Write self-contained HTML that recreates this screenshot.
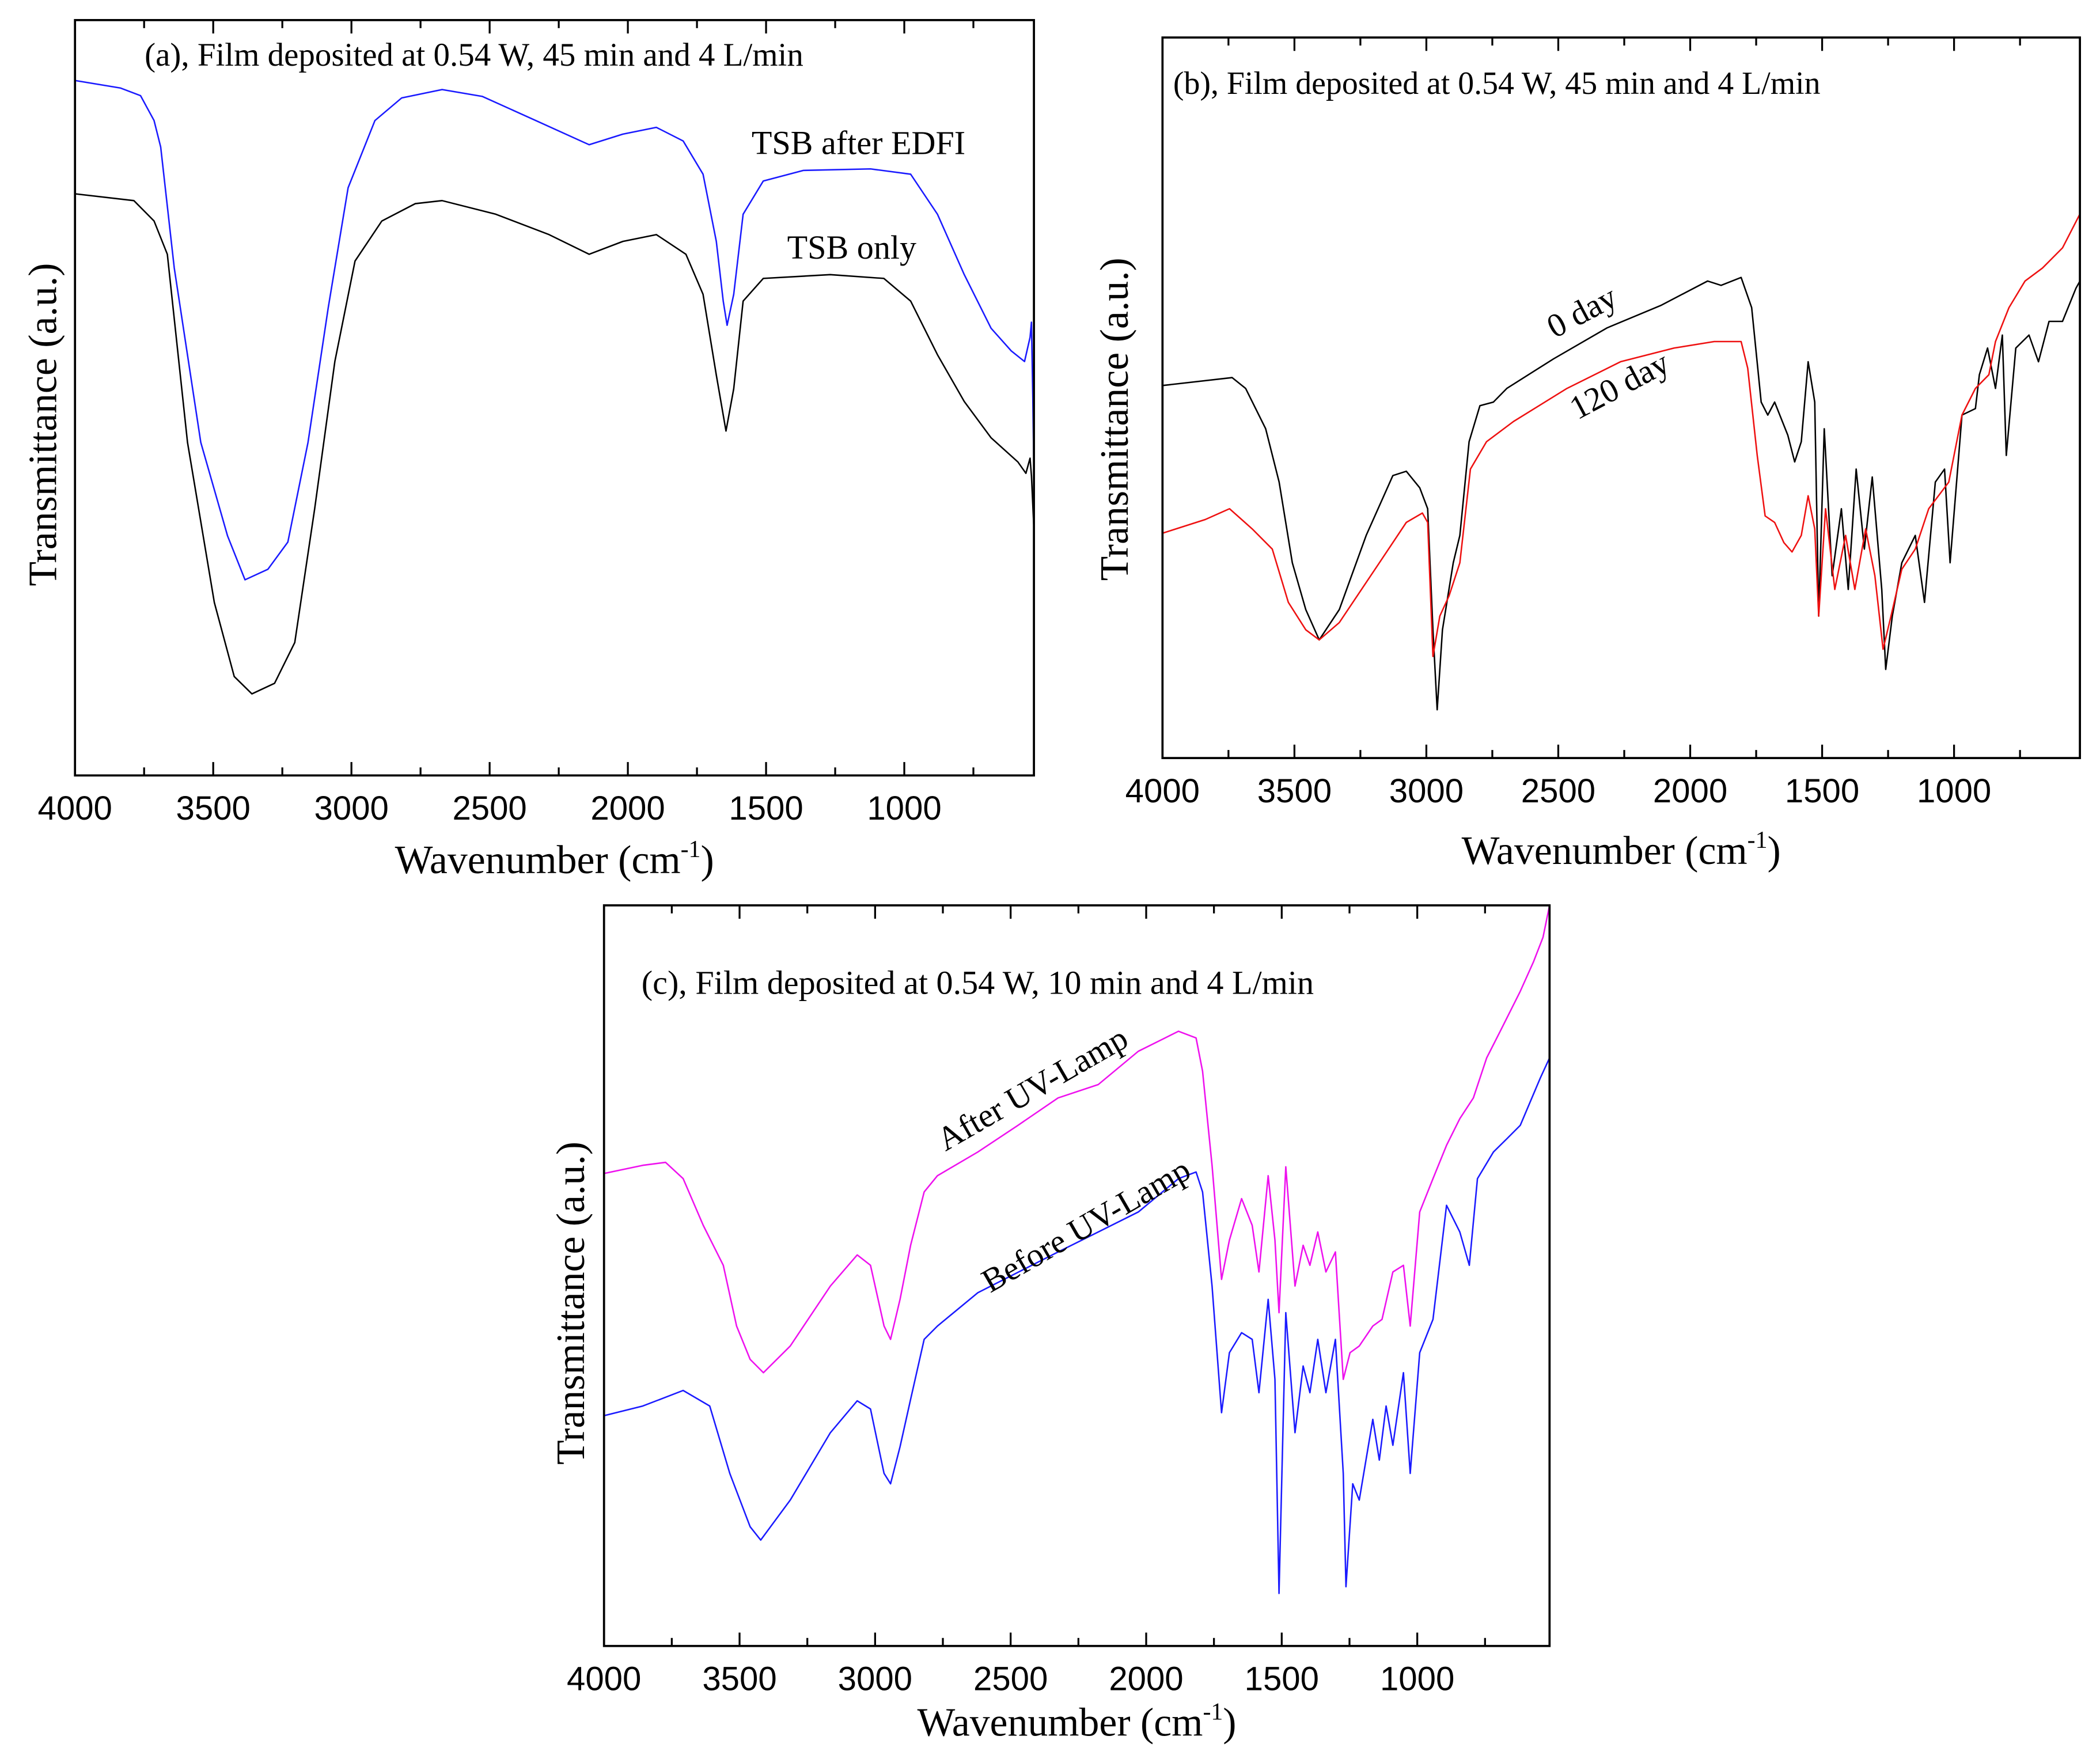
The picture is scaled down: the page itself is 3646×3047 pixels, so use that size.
<!DOCTYPE html>
<html><head><meta charset="utf-8"><style>
html,body{margin:0;padding:0;background:#fff;}
svg{display:block;}
</style></head><body>
<svg id="fig" width="3646" height="3047" viewBox="0 0 1568 1310.4" preserveAspectRatio="none" xmlns="http://www.w3.org/2000/svg">
<rect x="0" y="0" width="1568" height="1310.4" fill="#fff"/>
</svg>
<script>
// ---------- Panel (a) data ----------
const aBlueWn = [4000,3835,3763,3714,3690,3641,3545,3448,3385,3302,3230,3157,3084,3012,2915,2818,2672,2527,2333,2140,2018,1897,1800,1728,1680,1655,1641,1617,1583,1510,1365,1122,977,880,783,686,613,565,545,540,535,531];
const aBlueT  = [92,91,90,86.7,83.2,67.2,44.1,31.7,25.9,27.3,30.9,44.1,61.9,77.8,86.7,89.7,90.8,89.9,86.7,83.5,84.9,85.8,84,79.6,70.7,62.8,59.6,63.7,74.3,78.7,80.1,80.3,79.6,74.3,66.3,59.2,56.2,54.8,58,60,50,40];
const aBlackWn = [4000,3787,3714,3666,3593,3496,3424,3360,3278,3205,3133,3060,2987,2890,2769,2672,2478,2285,2140,2018,1897,1790,1728,1680,1645,1617,1583,1510,1268,1074,977,880,783,686,589,560,545,540,531];
const aBlackT  = [77,76.1,73.4,69,44.1,22.9,13.1,10.8,12.2,17.6,35.3,54.8,68.1,73.4,75.7,76.1,74.3,71.6,69,70.7,71.6,69,63.7,53,45.6,51.2,62.8,65.8,66.3,65.8,62.8,55.7,49.5,44.7,41.5,40,42,39.7,32.6];
// ---------- Panel (b) data ----------
const b0Wn = [4000,3736,3685,3609,3558,3508,3457,3406,3330,3228,3127,3076,3025,2995,2975,2959,2939,2898,2873,2838,2797,2746,2695,2518,2315,2112,1934,1883,1807,1767,1731,1706,1680,1630,1604,1579,1553,1528,1513,1492,1462,1427,1401,1371,1340,1310,1274,1259,1234,1198,1147,1112,1071,1036,1015,970,919,904,873,843,817,802,766,716,680,640,589,538,523];
const b0T  = [51.7,52.8,51.3,45.7,38.3,27.1,20.6,16.4,20.6,30.9,39.2,39.8,37.5,34.6,17.8,6.7,17.8,27.1,30.9,43.9,48.9,49.4,51.3,55.4,59.7,62.8,66.2,65.6,66.7,62.5,49.4,47.6,49.4,44.8,41.1,43.9,55,49.4,19.7,45.7,25.3,34.6,23.4,40.1,29,39,23.4,12.3,19.7,27.1,30.9,21.6,38.3,40.1,27.1,47.6,48.5,53.2,56.9,51.3,58.7,42,56.9,58.7,55,60.6,60.6,65.2,66.2];
const b120Wn = [4000,3838,3746,3660,3584,3523,3457,3406,3330,3178,3076,3015,2995,2975,2949,2914,2873,2833,2772,2670,2467,2264,2061,1909,1807,1782,1746,1716,1680,1645,1614,1579,1553,1528,1513,1487,1452,1411,1376,1335,1300,1269,1239,1198,1147,1096,1020,970,919,868,843,792,731,665,589,523];
const b120T  = [31.2,33.1,34.6,31.8,29,21.6,17.8,16.4,18.8,27.1,32.7,34,32.7,14.1,19.7,22.5,27.1,40.1,43.9,46.7,51.3,55,56.9,57.8,57.8,54.1,42,33.6,32.7,29.9,28.6,30.9,36.4,31.8,19.7,34.6,23.4,30.9,23.4,31.8,25.3,15.1,19.7,26.2,29,34.6,38.3,47.6,51.3,53.2,57.8,62.5,66.2,68,70.8,75.5];
// ---------- Panel (c) data ----------
const cAfterWn = [4000,3857,3773,3708,3634,3560,3511,3461,3412,3313,3165,3066,3017,2967,2943,2908,2869,2819,2770,2621,2473,2325,2177,2029,1930,1881,1816,1792,1757,1722,1693,1648,1609,1584,1550,1525,1510,1485,1451,1421,1396,1367,1337,1302,1273,1248,1214,1164,1130,1090,1051,1026,991,942,892,843,793,744,694,620,571,536,512];
const cAfterT  = [63.8,64.9,65.3,63.1,56.8,51.4,43.2,38.7,36.9,40.5,48.6,52.8,51.4,43.2,41.4,46.8,54.1,61.3,63.5,66.7,70.3,74,75.8,80.3,82.1,83,82.1,77.6,64.9,49.5,54.8,60.4,56.8,50.5,63.5,54.8,45,64.7,48.6,54.1,51.4,55.9,50.5,53.2,36,39.6,40.5,43.2,44.1,50.5,51.4,43.2,58.6,63.1,67.6,71.2,74,79.4,83,88.4,92.4,95.7,100];
const cBeforeWn = [4000,3857,3708,3610,3536,3461,3422,3313,3165,3066,3017,2967,2943,2908,2869,2819,2770,2621,2325,2029,1881,1816,1792,1757,1722,1693,1648,1609,1584,1550,1525,1510,1485,1451,1421,1396,1367,1337,1302,1273,1263,1238,1214,1164,1140,1115,1090,1051,1026,991,942,892,843,808,778,719,669,620,546,512];
const cBeforeT  = [31.1,32.4,34.5,32.4,23.3,16.1,14.3,19.7,28.8,33.1,32,23.3,21.9,26.9,33.3,41.4,43.2,47.7,53.2,58.6,63.1,64,61.3,48.6,31.5,39.6,42.3,41.4,34.2,46.8,36,7.1,45,28.8,37.8,34.2,41.4,34.2,41.4,23.3,8,21.9,19.7,30.6,25.1,32.4,27.1,36.9,23.3,39.6,44.1,59.5,55.9,51.4,63.1,66.7,68.5,70.3,76.7,79.4];
const tickLabels = ["4000","3500","3000","2500","2000","1500","1000"];
const tickValues = [4000,3500,3000,2500,2000,1500,1000];

const NS = "http://www.w3.org/2000/svg";
const svg = document.getElementById('fig');
function mk(tag, attrs, parent){const e=document.createElementNS(NS,tag);for(const k in attrs)e.setAttribute(k,attrs[k]);(parent||svg).appendChild(e);return e;}

function panel(p){
  const g = mk('g',{});
  
  
  const xs = wn => p.x0 + (p.wmax - wn)/(p.wmax - p.wmin)*(p.x1 - p.x0);
  const ys = v => p.y1 - v/100*(p.y1 - p.y0);
  p.series.forEach(s=>{
    let d='';
    s.wn.forEach((w,i)=>{d+=(i?'L':'M')+xs(w).toFixed(2)+' '+ys(s.t[i]).toFixed(2);});
    const path = mk('path',{d:d,fill:'none',stroke:s.color,'stroke-width':1.1,'stroke-linejoin':'round'},g);
    
    
  });
  const fr = mk('rect',{x:p.x0,y:p.y0,width:p.x1-p.x0,height:p.y1-p.y0,fill:'none',stroke:'#000','stroke-width':1.6},g);
  
  
  for(let w=4000; w>p.wmin; w-=250){
    const major = (w%500===0);
    const L = major?10:6;
    const x = xs(w);
    mk('line',{x1:x,x2:x,y1:p.y1,y2:p.y1-L,stroke:'#000','stroke-width':1.4},g);
    mk('line',{x1:x,x2:x,y1:p.y0,y2:p.y0+L,stroke:'#000','stroke-width':1.4},g);
  }
  tickValues.forEach((w,i)=>{
    const t = mk('text',{x:xs(w),y:p.y1+33,'text-anchor':'middle','font-family':'Liberation Sans, Arial, sans-serif','font-size':25,fill:'#000'},g);
    t.textContent = tickLabels[i];
    
    
  });
  const xt = mk('text',{x:(p.x0+p.x1)/2,y:p.xtY,'text-anchor':'middle','font-family':'Liberation Serif, Times New Roman, serif','font-size':30,fill:'#000'},g);
  
  
  xt.appendChild(document.createTextNode('Wavenumber (cm'));
  const sup = mk('tspan',{dy:-12,'font-size':18},xt); sup.textContent='-1';
  const cl = mk('tspan',{dy:12},xt); cl.textContent=')';
  const yt = mk('text',{x:0,y:0,'text-anchor':'middle','font-family':'Liberation Serif, Times New Roman, serif','font-size':30,fill:'#000',transform:`translate(${p.ytX},${p.ytY}) rotate(-90)`},g);
  yt.textContent='Transmittance (a.u.)';
  
  
  const pt = mk('text',{x:p.titleX,y:p.titleY,'font-family':'Liberation Serif, Times New Roman, serif','font-size':p.titleSize,fill:'#000'},g);
  pt.textContent = p.title;
  
  
  p.labels.forEach(l=>{
    const t = mk('text',{x:0,y:0,'text-anchor':'middle','font-family':'Liberation Serif, Times New Roman, serif','font-size':25,fill:'#000',transform:`translate(${l.x},${l.y}) rotate(${l.r})`},g);
    t.textContent = l.text;
    
    
  });
}

panel({id:'panel-a',x0:56,x1:772,y0:15,y1:579,wmax:4000,wmin:531,xtY:652,ytX:42,ytY:317,
  title:'(a), Film deposited at 0.54 W, 45 min and 4 L/min',titleX:108,titleY:49,titleSize:24.5,
  series:[{name:'tsb-after-edfi-line',wn:aBlueWn,t:aBlueT,color:'#1a1aff'},{name:'tsb-only-line',wn:aBlackWn,t:aBlackT,color:'#000'}],
  labels:[{text:'TSB after EDFI',x:641,y:115,r:0},{text:'TSB only',x:636,y:193,r:0}]});
panel({id:'panel-b',x0:868,x1:1553,y0:28,y1:566,wmax:4000,wmin:523,xtY:645,ytX:842,ytY:313,
  title:'(b), Film deposited at 0.54 W, 45 min and 4 L/min',titleX:876,titleY:70,titleSize:24,
  series:[{name:'day-0-line',wn:b0Wn,t:b0T,color:'#000'},{name:'day-120-line',wn:b120Wn,t:b120T,color:'#ee1111'}],
  labels:[{text:'0 day',x:1185,y:240,r:-28},{text:'120 day',x:1213,y:295,r:-28}]});
panel({id:'panel-c',x0:451,x1:1157,y0:676,y1:1229,wmax:4000,wmin:512,xtY:1296,ytX:436,ytY:973,
  title:'(c), Film deposited at 0.54 W, 10 min and 4 L/min',titleX:479,titleY:742,titleSize:25,
  series:[{name:'after-uv-lamp-line',wn:cAfterWn,t:cAfterT,color:'#ee11ee'},{name:'before-uv-lamp-line',wn:cBeforeWn,t:cBeforeT,color:'#1a1aff'}],
  labels:[{text:'After UV-Lamp',x:775,y:820,r:-30},{text:'Before UV-Lamp',x:815,y:922,r:-30}]});
</script>
</body></html>
